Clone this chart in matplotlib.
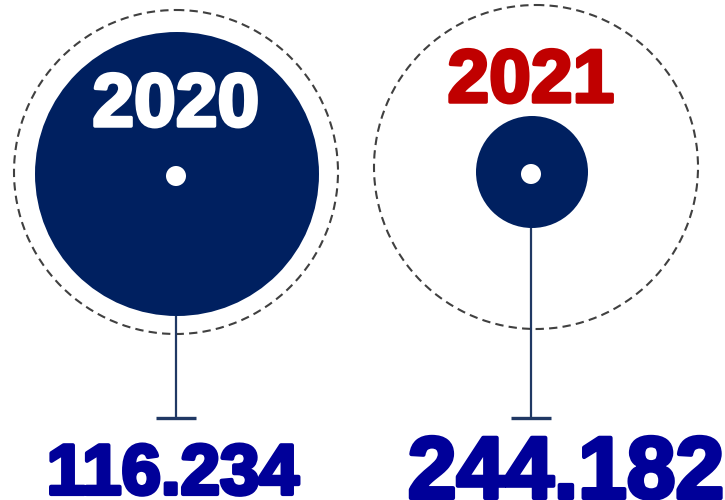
"""Two-year comparison: filled circles with dashed outer rings, stems and big value labels."""
import matplotlib

matplotlib.use("Agg")
import matplotlib.pyplot as plt  # noqa: E402
from matplotlib.patches import Circle  # noqa: E402
import matplotlib.patheffects as pe  # noqa: E402

YEARS = ["2020", "2021"]
VALUES = ["116.234", "244.182"]
YEAR_COLORS = ["white", "#c00000"]

# layout in pixel space (y downwards)
CENTERS = [(177, 174), (532, 172)]
RING_CENTERS = [(176, 172), (536, 167)]
FILL_R = [142, 56]
RING_R = 162
YEAR_BASE = [126, 102]
YEAR_SIZE = [54, 54]
VALUE_X = [173, 566]
VALUE_BASE = [494, 498]
VALUE_SIZE = [51, 63]

NAVY = "#002060"
LINE = "#203864"
NUM = "#000099"


def main() -> None:
    fig = plt.figure(figsize=(7.25, 5.0), dpi=100)
    ax = fig.add_axes([0, 0, 1, 1])
    ax.set_xlim(0, 725)
    ax.set_ylim(500, 0)
    ax.set_aspect("equal")
    ax.axis("off")

    for i, year in enumerate(YEARS):
        cx, cy = CENTERS[i]
        rx, ry = RING_CENTERS[i]
        ax.add_patch(Circle((rx, ry), RING_R, fill=False, ec="#404040",
                            lw=1.5, ls=(0, (4, 2.5))))
        ax.add_patch(Circle((cx, cy), FILL_R[i], fc=NAVY, ec="none"))
        ax.add_patch(Circle((cx - 1, cy + 2), 10, fc="white", ec="none"))
        # stem with a foot
        ax.plot([cx - 1, cx - 1], [cy + FILL_R[i], 418], color=LINE, lw=1.6,
                solid_capstyle="butt")
        ax.plot([cx - 21, cx + 19], [418, 418], color=LINE, lw=2.4,
                solid_capstyle="butt")
        ax.text(cx - 1, YEAR_BASE[i], year, ha="center", va="baseline",
                fontsize=YEAR_SIZE[i], fontweight="bold", family="Liberation Sans",
                color=YEAR_COLORS[i],
                path_effects=[pe.withStroke(linewidth=2.5, foreground=YEAR_COLORS[i])])
        ax.text(VALUE_X[i], VALUE_BASE[i], VALUES[i], ha="center",
                va="baseline", fontsize=VALUE_SIZE[i], fontweight="bold",
                family="Liberation Sans", color=NUM,
                path_effects=[pe.withStroke(linewidth=3, foreground=NUM)])

    fig.savefig("out.png", dpi=100)


if __name__ == "__main__":
    main()
